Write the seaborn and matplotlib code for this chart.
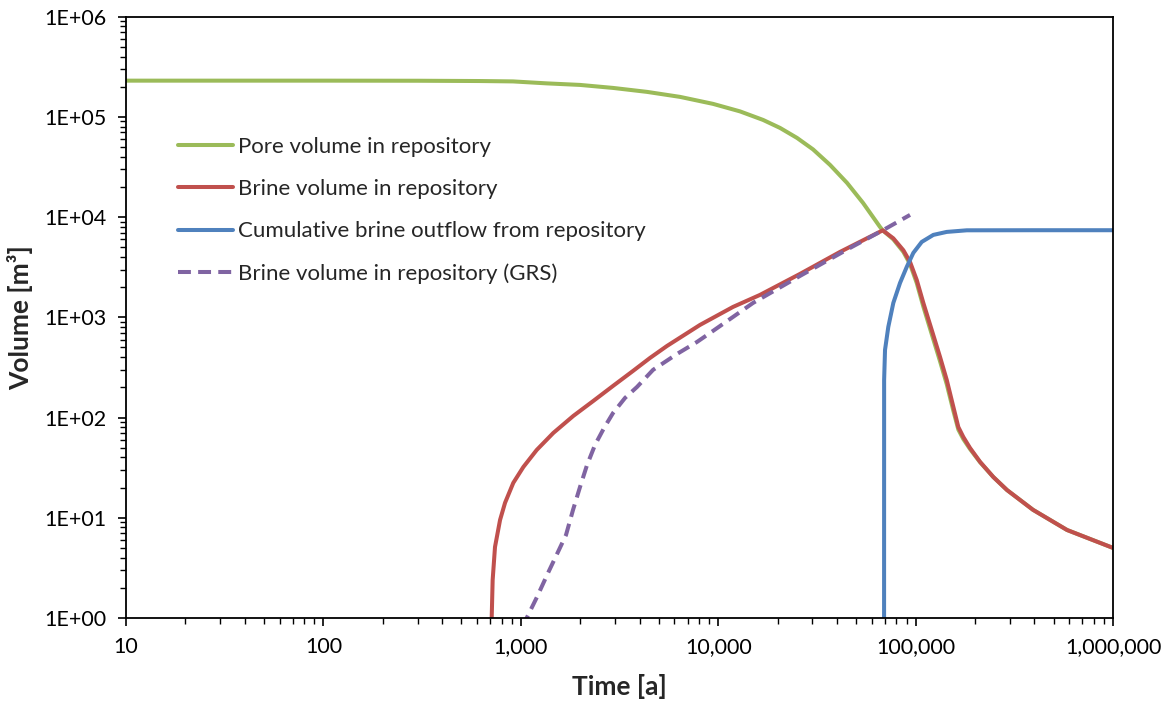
import numpy as np
import pandas as pd
import matplotlib
matplotlib.use("Agg")
import matplotlib.pyplot as plt
from matplotlib.ticker import LogLocator, FuncFormatter, NullFormatter
import seaborn as sns

# Time [a] and volume [m3] for each series
pore_t = [10, 100, 300, 621, 913, 1357, 1995, 2932, 4358, 6405, 9413, 12895, 16870,
          20570, 25070, 30220, 36840, 44930, 54140, 65990, 68130,
          77100, 86670, 93670, 101300, 109400, 120650, 132900, 143770, 155240,
          164500, 174400, 188600, 212100, 247500, 290400, 393200, 584800, 1000000]
pore_v = [230000, 230000, 229500, 228000, 226000, 216000, 208500, 194600, 177700,
          158400, 134900, 113500, 93300, 77600, 61700, 47400, 33200, 21950, 13860,
          7980, 7380,
          6000, 4500, 3400, 2200, 1280, 680, 365, 215, 117,
          76, 61, 48.5, 35.8, 25.5, 18.9, 12.0, 7.55, 5.0]

brine_t = [700, 712, 720, 740, 785, 832, 916, 1030, 1204, 1461, 1845, 2330, 2932,
           3702, 4513, 5503, 8087, 11885, 16285, 25970, 41410, 68130,
           77100, 86670, 93670, 101300, 109400, 120650, 132900, 143770, 155240,
           164500, 174400, 188600, 212100, 247500, 290400, 393200, 584800, 1000000]
brine_v = [0.5, 1.0, 2.39, 5.11, 9.51, 14.1, 22.3, 32.1, 47.5, 70.2, 103.8, 146.5, 206.8,
           291.9, 393.3, 518.2, 840, 1270, 1675, 2713, 4496, 7380,
           6140, 4670, 3573, 2361, 1393, 748, 403, 237, 128,
           80.5, 64.0, 49.7, 36.1, 25.5, 18.9, 12.0, 7.55, 5.0]

outflow_t = [69180, 69250, 69980, 72700, 77100, 83370, 90150, 97350, 107400,
             122900, 143700, 181500, 400000, 1000000]
outflow_v = [0.01, 237, 473, 802, 1393, 2205, 3184, 4397, 5656,
             6645, 7117, 7385, 7400, 7400]

grs_t = [1040, 1071, 1208, 1373, 1543, 1694, 1838, 1995, 2165, 2376, 2640, 2932,
         3373, 3879, 4675, 6183, 7808, 9413, 11885, 15010, 25970, 46530, 68130, 93670]
grs_v = [0.5, 1.0, 1.62, 2.81, 4.56, 6.73, 11.96, 20.3, 33.6, 53.3, 78.7, 111,
         157, 202, 299, 431, 568, 732, 1009, 1392, 2590, 4927, 7380, 10520]

labels = ["Pore volume in repository",
          "Brine volume in repository",
          "Cumulative brine outflow from repository",
          "Brine volume in repository (GRS)"]
colors = ["#9BBB59", "#C0504D", "#4F81BD", "#8064A2"]

sns.set_style("white")
plt.rcParams["font.family"] = ["Lato", "DejaVu Sans"]

fig = plt.figure(figsize=(11.71, 7.04), dpi=100)
ax = fig.add_axes([0.1076, 0.1222, 0.8429, 0.8541])

series = [(pore_t, pore_v), (brine_t, brine_v), (outflow_t, outflow_v), (grs_t, grs_v)]
for i, ((t, v), lab, col) in enumerate(zip(series, labels, colors)):
    df = pd.DataFrame({"t": t, "v": v})
    sns.lineplot(data=df, x="t", y="v", ax=ax, linewidth=2.9, color=col,
                 label=lab, sort=False, estimator=None)
    line = ax.lines[-1]
    line.set_solid_joinstyle("round")
    if i == 3:
        line.set_dashes((3.2, 1.8))

ax.set_xscale("log")
ax.set_yscale("log")
ax.set_xlim(10, 1e6)
ax.set_ylim(1, 1e6)

ax.xaxis.set_major_locator(LogLocator(base=10, numticks=10))
ax.xaxis.set_minor_locator(LogLocator(base=10, subs=np.arange(2, 10), numticks=20))
ax.yaxis.set_major_locator(LogLocator(base=10, numticks=10))
ax.yaxis.set_minor_locator(LogLocator(base=10, subs=np.arange(2, 10), numticks=20))
ax.xaxis.set_major_formatter(FuncFormatter(lambda x, p: f"{int(round(x)):,}"))
ax.yaxis.set_major_formatter(FuncFormatter(lambda y, p: f"1E+{int(round(np.log10(y))):02d}"))
ax.xaxis.set_minor_formatter(NullFormatter())
ax.yaxis.set_minor_formatter(NullFormatter())

ax.tick_params(axis="both", which="major", direction="out", length=6, width=1.2,
               color="black", labelsize=15.5, labelcolor="black", pad=8,
               bottom=True, left=True)
ax.tick_params(axis="both", which="minor", direction="out", length=4, width=1.0,
               color="black", bottom=True, left=True)

for s in ax.spines.values():
    s.set_color("black")
    s.set_linewidth(1.3)
    s.set_visible(True)

ax.set_xlabel("Time [a]", fontsize=19, fontweight="bold", labelpad=12)
ax.set_ylabel("Volume [m³]", fontsize=19, fontweight="bold", labelpad=8)

ax.legend(loc="upper left", bbox_to_anchor=(0.053, 0.80), frameon=False,
          fontsize=16, handlelength=2.45, handletextpad=0.22, labelspacing=1.0,
          borderaxespad=0, borderpad=0)

fig.savefig("out.png", dpi=100)
